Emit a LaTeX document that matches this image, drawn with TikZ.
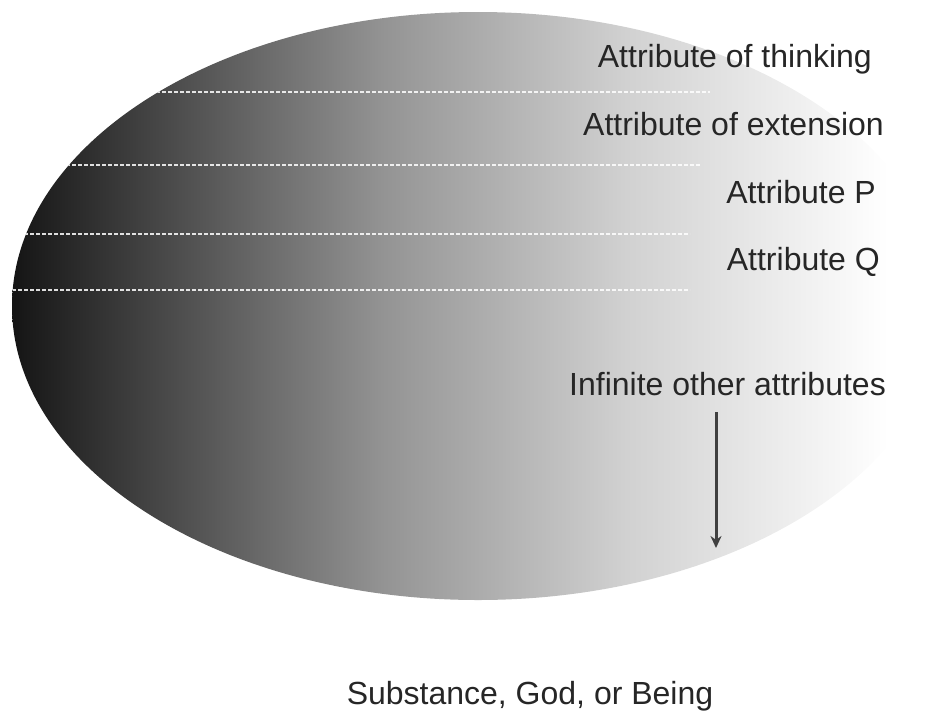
\documentclass[tikz,border=0pt]{standalone}
\usepackage{fontspec}
\setmainfont{Liberation Sans}
\usetikzlibrary{arrows.meta}
\pgfdeclarehorizontalshading{spinoza}{100bp}{color(0bp)=(black); color(25bp)=(black!92); color(45bp)=(black!42); color(58bp)=(black!18); color(72bp)=(white); color(100bp)=(white)}
\tikzset{
  lbl/.style={anchor=base east, inner sep=0pt, text=black!85, font=\fontsize{32}{36}\selectfont},
  sep/.style={draw=white, draw opacity=0.85, line width=2.6pt, dash pattern=on 4pt off 2pt},
  arr/.style={draw=black!75, line width=3pt, -{Stealth[length=12pt,width=11pt]}}
}
\begin{document}
\begin{tikzpicture}[x=1pt,y=-1pt]
\useasboundingbox (0,0) rectangle (944,712);
\shade[shading=spinoza] (478,306) ellipse [x radius=466, y radius=294];
\begin{scope}
  \clip (478,306) ellipse [x radius=466, y radius=294];
  \draw[sep] (0,92) -- (710,92);
  \draw[sep] (0,165) -- (700,165);
  \draw[sep] (0,234) -- (690,234);
  \draw[sep] (0,290) -- (690,290);
\end{scope}
\node[lbl] (t1) at (872,67) {Attribute of thinking};
\node[lbl] (t2) at (884,135) {Attribute of extension};
\node[lbl] (t3) at (876,203) {Attribute P};
\node[lbl] (t4) at (880,270) {Attribute Q};
\node[lbl] (t5) at (886,395) {Infinite other attributes};
\coordinate (tip) at (716,548);
\coordinate (start) at (716,412);
\draw[arr] (start) -- (tip);
\node[lbl, anchor=base] (cap) at (530,704) {Substance, God, or Being};
\end{tikzpicture}
\end{document}
